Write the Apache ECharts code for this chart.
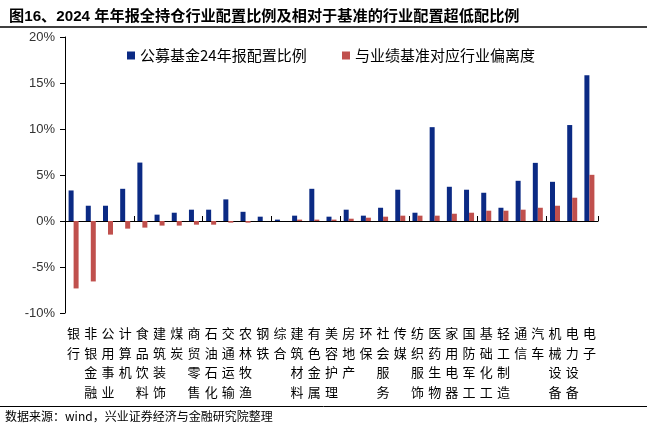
<!DOCTYPE html>
<html><head><meta charset="utf-8">
<script src="https://cdn.jsdelivr.net/npm/echarts@6/dist/echarts.min.js"></script>
<style>html,body{margin:0;padding:0;background:#fff}#c{width:647px;height:429px}</style>
</head><body><div id="c"></div>
<script>
var categories = ['银行','非银金融','公用事业','计算机','食品饮料','建筑装饰','煤炭','商贸零售','石油石化','交通运输','农林牧渔','钢铁','综合','建筑材料','有色金属','美容护理','房地产','环保','社会服务','传媒','纺织服饰','医药生物','家用电器','国防军工','基础化工','轻工制造','通信','汽车','机械设备','电力设备','电子'];
var allocation = [3.32,1.66,1.66,3.5,6.35,0.69,0.9,1.23,1.23,2.35,1.0,0.47,0.15,0.58,3.5,0.47,1.23,0.58,1.44,3.4,0.9,10.2,3.72,3.4,3.07,1.44,4.37,6.32,4.26,10.43,15.85];
var deviation = [-7.33,-6.57,-1.48,-0.83,-0.72,-0.5,-0.5,-0.4,-0.4,-0.18,-0.18,0.0,0.0,0.15,0.15,0.15,0.25,0.36,0.47,0.58,0.58,0.58,0.79,0.9,1.12,1.12,1.23,1.44,1.66,2.53,5.02];
var yTicks = {min:-10, max:20, interval:5};
var seriesNames = ['公募基金24年报配置比例','与业绩基准对应行业偏离度'];

var chart = echarts.init(document.getElementById('c'));
var cjk = '"SimSun","Noto Sans CJK SC",sans-serif';
chart.setOption({
  animation:false,
  title:{text:'图16、2024 年年报全持仓行业配置比例及相对于基准的行业配置超低配比例', left:4, top:4,
    textStyle:{fontSize:15.2, fontWeight:'bold', color:'#000', fontFamily:'"Liberation Sans","Noto Sans CJK SC",sans-serif'}},
  legend:[
    {data:[seriesNames[0]], left:122, top:43, itemWidth:8, itemHeight:8, icon:'rect', itemGap:5,
     textStyle:{fontSize:15, color:'#000', fontFamily:cjk}},
    {data:[seriesNames[1]], left:337, top:43, itemWidth:8, itemHeight:8, icon:'rect', itemGap:5,
     textStyle:{fontSize:15, color:'#000', fontFamily:cjk}}
  ],
  grid:{left:65, right:49, top:37, bottom:116},
  xAxis:[
    {type:'category', data:categories, axisLine:{onZero:true, lineStyle:{color:'#000', width:1.2}},
     axisTick:{show:true, inside:true, length:5, alignWithLabel:false, lineStyle:{color:'#000'}},
     axisLabel:{show:false}},
    {type:'category', data:categories, position:'bottom', axisLine:{show:false}, axisTick:{show:false},
     axisLabel:{interval:0, margin:10, fontSize:13, color:'#000', fontFamily:cjk, lineHeight:19.8,
       formatter:function(v){return v.split('').join('\n');}}}
  ],
  yAxis:{type:'value', min:yTicks.min, max:yTicks.max, interval:yTicks.interval,
    axisLine:{show:true, lineStyle:{color:'#000'}},
    axisTick:{show:true, length:5, lineStyle:{color:'#000'}},
    splitLine:{show:false},
    axisLabel:{margin:10, fontSize:13, color:'#333', fontFamily:'"Liberation Sans",Arial,sans-serif',
      formatter:function(v){return v+'%';}}},
  series:[
    {name:seriesNames[0], type:'bar', data:allocation, barWidth:5, barGap:'0%', itemStyle:{color:'#0b2a84'}},
    {name:seriesNames[1], type:'bar', data:deviation, barWidth:5, barGap:'0%', itemStyle:{color:'#c0504d'}}
  ],
  graphic:[
    {type:'line', shape:{x1:0,y1:27,x2:647,y2:27}, style:{stroke:'#000', lineWidth:1.5}},
    {type:'line', shape:{x1:0,y1:406.5,x2:647,y2:406.5}, style:{stroke:'#000', lineWidth:1}},
    {type:'text', left:5, top:410, style:{text:'数据来源：wind，兴业证券经济与金融研究院整理', fontSize:12, fill:'#000', fontFamily:'"Noto Sans CJK SC",sans-serif'}}
  ]
});
</script></body></html>
